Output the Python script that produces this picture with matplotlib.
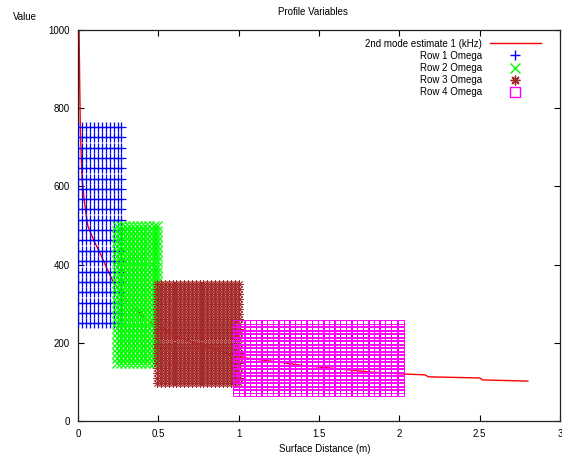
import numpy as np
import matplotlib
matplotlib.use("Agg")
import matplotlib.pyplot as plt

plt.rcParams['font.family'] = ['Liberation Sans', 'DejaVu Sans']
plt.rcParams['font.size'] = 7

# 2nd mode estimate along the surface
est_x = [0.005, 0.008, 0.012, 0.015, 0.02, 0.025, 0.04, 0.06, 0.1, 0.137, 0.18, 0.22,
         0.3, 0.43, 0.55, 0.65, 0.8, 0.95, 1.05, 1.24, 1.4, 1.63, 1.82, 2.04, 2.16,
         2.18, 2.5, 2.52, 2.8]
est_y = [1050, 950, 820, 740, 680, 620, 560, 500, 460, 430, 390, 355,
         310, 258, 230, 210, 190, 170, 161, 151, 142, 133, 125, 120, 118,
         113, 110, 105, 102]

# omega samples per row: distance positions and omega levels
row1_x = [0.0, 0.025, 0.05, 0.075, 0.1, 0.125, 0.15, 0.175, 0.2, 0.225, 0.25, 0.27]
row1_y = [752, 726, 699, 673, 646, 620, 594, 567, 541, 514, 488, 462, 435, 409,
          382, 356, 330, 303, 277, 250]
row2_x = [0.245, 0.27, 0.295, 0.32, 0.345, 0.37, 0.395, 0.42, 0.445, 0.47, 0.49]
row2_y = [499, 486, 473, 460, 447, 434, 421, 408, 395, 382, 369, 356, 343, 330,
          317, 304, 291, 278, 265, 252, 239, 226, 213, 200, 187, 174, 161, 148]
row3_x = [0.49, 0.515, 0.54, 0.565, 0.59, 0.61, 0.635, 0.66, 0.685, 0.71, 0.735,
          0.76, 0.78, 0.805, 0.83, 0.855, 0.88, 0.905, 0.93, 0.95, 0.975, 1.0]
row3_y = [350, 337, 325, 312, 300, 287, 274, 262, 249, 236, 224, 211, 198, 186,
          173, 160, 148, 135, 122, 110, 97]
row4_x = [0.985, 1.02, 1.055, 1.09, 1.125, 1.16, 1.195, 1.23, 1.265, 1.3, 1.335,
          1.37, 1.405, 1.44, 1.475, 1.51, 1.545, 1.58, 1.615, 1.65, 1.685, 1.72,
          1.755, 1.79, 1.825, 1.86, 1.895, 1.93, 1.965, 2.01]
row4_y = [250, 241, 232, 223, 214, 205, 196, 187, 179, 170, 161, 152, 143, 134,
          125, 116, 107, 98, 89, 80, 72]

x_ticks = [0, 0.5, 1, 1.5, 2, 2.5, 3]
x_tick_labels = ['0', '0.5', '1', '1.5', '2', '2.5', '3']
y_ticks = [0, 200, 400, 600, 800, 1000]

fig = plt.figure(figsize=(5.62, 4.57), dpi=100)
ax = fig.add_axes([0.1388, 0.0788, 0.8576, 0.8556])

ax.plot(est_x, est_y, color='#ff0000', lw=1, label='2nd mode estimate 1 (kHz)', zorder=2)

rows = [
    (row1_x, row1_y, '+', '#0000ff', 'Row 1 Omega', 6.5, 0.9),
    (row2_x, row2_y, 'x', '#00ff00', 'Row 2 Omega', 6.5, 0.9),
    (row3_x, row3_y, (8, 2, 0), '#a52a2a', 'Row 3 Omega', 6.0, 0.6),
    (row4_x, row4_y, 's', '#ff00ff', 'Row 4 Omega', 5.0, 0.7),
]
for i, (xs, ys, mk, col, lab, size, edge) in enumerate(rows):
    gx, gy = np.meshgrid(xs, ys)
    if mk == 's':
        ax.plot(gx.ravel(), gy.ravel(), ls='none', marker=mk, ms=size, mfc='none',
                mec=col, mew=edge, label=lab, zorder=3 + i)
    else:
        ax.plot(gx.ravel(), gy.ravel(), ls='none', marker=mk, ms=size, color=col,
                mew=edge, label=lab, zorder=3 + i)

ax.set_xlim(0, 3)
ax.set_ylim(0, 1000)
ax.set_xticks(x_ticks)
ax.set_xticklabels(x_tick_labels)
ax.set_yticks(y_ticks)
ax.tick_params(direction='in', length=4.5, width=0.8, top=True, right=True, pad=6)
for s in ax.spines.values():
    s.set_linewidth(0.9)
    s.set_color('#222222')

leg = ax.legend(loc='upper right', frameon=False, markerfirst=False, numpoints=1,
                handlelength=5.3, handletextpad=0.8, labelspacing=0.22,
                borderaxespad=0.3, bbox_to_anchor=(0.975, 0.995))
for h in leg.legend_handles[1:]:
    h.set_markersize(7)
    h.set_markeredgewidth(1)

fig.text(313 / 562, 1 - 12 / 457, 'Profile Variables', ha='center', va='center')
fig.text(25 / 562, 1 - 17 / 457, 'Value', ha='center', va='center')
fig.text(325 / 562, 1 - 449 / 457, 'Surface Distance (m)', ha='center', va='center')

fig.savefig('out.png', dpi=100)
